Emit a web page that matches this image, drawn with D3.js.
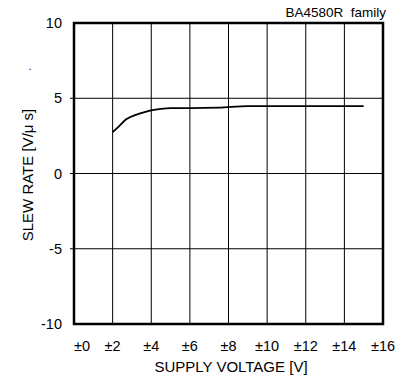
<!DOCTYPE html>
<html>
<head>
<meta charset="utf-8">
<script src="https://cdn.jsdelivr.net/npm/d3@7"></script>
<style>
body { margin: 0; background: #fff; }
text { font-family: "Liberation Sans", Arial, sans-serif; fill: #000; }
</style>
</head>
<body>
<script>
(function(){
'use strict';

var voltage = [2, 2.3, 2.7, 3.2, 3.7, 4, 4.5, 5, 6, 7.5, 9, 15];
var slewRate = [2.75, 3.1, 3.6, 3.9, 4.1, 4.2, 4.3, 4.35, 4.35, 4.38, 4.48, 4.48];
var xTicks = [0, 2, 4, 6, 8, 10, 12, 14, 16];
var yTicks = [-10, -5, 0, 5, 10];

var width = 407, height = 381;
var left = 74, right = 383, top = 23, bottom = 324;

var svg = d3.select('body').append('svg')
	.attr('width', width)
	.attr('height', height);

var x = d3.scaleLinear().domain([0, 16]).range([left, right]);
var y = d3.scaleLinear().domain([-10, 10]).range([bottom, top]);

// grid
svg.selectAll('line.vgrid')
	.data(xTicks.slice(1, -1))
	.enter().append('line')
	.attr('x1', function(d){ return x(d); })
	.attr('x2', function(d){ return x(d); })
	.attr('y1', top).attr('y2', bottom)
	.attr('stroke', '#000').attr('stroke-width', 1);

svg.selectAll('line.hgrid')
	.data(yTicks.slice(1, -1))
	.enter().append('line')
	.attr('x1', left - 4).attr('x2', right)
	.attr('y1', function(d){ return y(d); })
	.attr('y2', function(d){ return y(d); })
	.attr('stroke', '#000').attr('stroke-width', 1);

// frame
svg.append('rect')
	.attr('x', left).attr('y', top)
	.attr('width', right - left).attr('height', bottom - top)
	.attr('fill', 'none').attr('stroke', '#000').attr('stroke-width', 2.5);

// curve
var line = d3.line()
	.x(function(d, i){ return x(voltage[i]); })
	.y(function(d){ return y(d); })
	.curve(d3.curveMonotoneX);

svg.append('path')
	.datum(slewRate)
	.attr('d', line)
	.attr('fill', 'none')
	.attr('stroke', '#000')
	.attr('stroke-width', 1.8);

// tick labels
svg.selectAll('text.ylab')
	.data(yTicks)
	.enter().append('text')
	.attr('x', left - 12)
	.attr('y', function(d){ return y(d) + 5; })
	.attr('text-anchor', 'end')
	.attr('font-size', 14.5)
	.text(function(d){ return d; });

svg.selectAll('text.xlab')
	.data(xTicks)
	.enter().append('text')
	.attr('x', function(d){ return x(d); })
	.attr('y', 351)
	.attr('text-anchor', function(d){ return d === 0 ? 'start' : 'middle'; })
	.attr('font-size', 14.5)
	.text(function(d){ return '\u00b1' + d; });

svg.append('text')
	.attr('x', 231)
	.attr('y', 372)
	.attr('text-anchor', 'middle')
	.attr('font-size', 15)
	.text('SUPPLY VOLTAGE [V]');

svg.append('text')
	.attr('transform', 'translate(33,175) rotate(-90)')
	.attr('text-anchor', 'middle')
	.attr('font-size', 15)
	.text('SLEW RATE [V/\u03bc s]');

svg.append('text')
	.attr('x', 30).attr('y', 70)
	.attr('text-anchor', 'middle')
	.attr('font-size', 11)
	.text('.');

svg.append('text')
	.attr('x', 386).attr('y', 17)
	.attr('text-anchor', 'end')
	.attr('font-size', 13.5)
	.attr('xml:space', 'preserve')
	.style('white-space', 'pre')
	.text('BA4580R  family');

})();
</script>
</body>
</html>
